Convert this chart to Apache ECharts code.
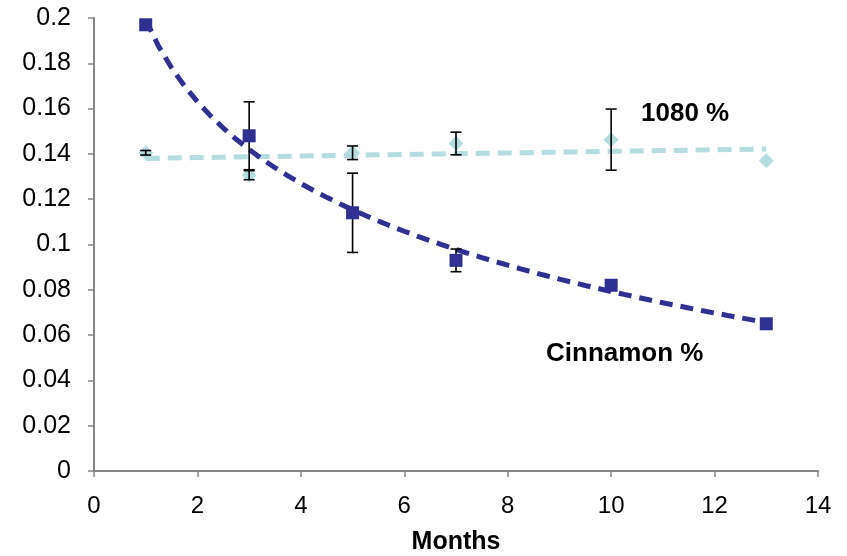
<!DOCTYPE html>
<html><head><meta charset="utf-8">
<script src="https://cdn.jsdelivr.net/npm/echarts@6/dist/echarts.min.js"></script>
<style>html,body{margin:0;padding:0;background:#fff}#c{width:847px;height:556px}</style>
</head><body><div id="c"></div>
<script>
const months = [1, 3, 5, 7, 10, 13];
const cinnamon = [0.197, 0.148, 0.114, 0.093, 0.082, 0.065];
const cinnamonErr = [0, 0.015, 0.0175, 0.005, 0.001, 0];
const p1080 = [0.1405, 0.1306, 0.1405, 0.1446, 0.1463, 0.137];
const p1080Err = [0.001, 0.002, 0.003, 0.005, 0.0135, 0];
const xTicks = [0, 2, 4, 6, 8, 10, 12, 14];
const yTicks = [0, 0.02, 0.04, 0.06, 0.08, 0.1, 0.12, 0.14, 0.16, 0.18, 0.2];

const CIN = '#2E3192', L1080 = '#B3DDE0';

// least-squares trendlines (Excel-style): logarithmic for Cinnamon, linear for 1080
function fit(xs, ys, tf) {
  const tx = xs.map(tf), n = xs.length;
  const mx = tx.reduce((a, b) => a + b, 0) / n, my = ys.reduce((a, b) => a + b, 0) / n;
  let sxy = 0, sxx = 0;
  tx.forEach((t, i) => { sxy += (t - mx) * (ys[i] - my); sxx += (t - mx) * (t - mx); });
  const b = sxy / sxx, a = my - b * mx;
  return x => a + b * tf(x);
}
const cinFit = fit(months, cinnamon, Math.log);
const f1080 = fit(months, p1080, x => x);
const trendX = [];
for (let x = months[0]; x <= months[months.length - 1] + 1e-9; x += 0.25) trendX.push(x);

function errSeries(ys, errs) {
  return {
    type: 'custom', z: 5,
    data: months.map((m, i) => [m, ys[i], errs[i]]),
    renderItem: function (params, api) {
      const x = api.value(0), y = api.value(1), e = api.value(2);
      if (!e) return null;
      const top = api.coord([x, y + e]), bot = api.coord([x, y - e]);
      const w = 5.5, st = { stroke: '#000', lineWidth: 1.6 };
      return { type: 'group', children: [
        { type: 'line', shape: { x1: top[0], y1: top[1], x2: bot[0], y2: bot[1] }, style: st },
        { type: 'line', shape: { x1: top[0] - w, y1: top[1], x2: top[0] + w, y2: top[1] }, style: st },
        { type: 'line', shape: { x1: bot[0] - w, y1: bot[1], x2: bot[0] + w, y2: bot[1] }, style: st }
      ]};
    }
  };
}

const chart = echarts.init(document.getElementById('c'));
chart.setOption({
  animation: false,
  grid: { left: 94, right: 29, top: 18, bottom: 85, containLabel: false, outerBoundsMode: 'none' },
  xAxis: {
    type: 'value', min: xTicks[0], max: xTicks[xTicks.length - 1], interval: 2,
    name: 'Months', nameLocation: 'middle', nameGap: 59,
    nameTextStyle: { fontFamily: 'Liberation Sans', fontWeight: 'bold', fontSize: 25, color: '#000' },
    axisLine: { lineStyle: { color: '#868686', width: 2 } },
    axisTick: { length: 6, lineStyle: { color: '#868686', width: 1.5 } },
    axisLabel: { fontFamily: 'Liberation Sans', fontSize: 24, color: '#000', margin: 23 },
    splitLine: { show: false }
  },
  yAxis: {
    type: 'value', min: yTicks[0], max: yTicks[yTicks.length - 1], interval: 0.02,
    axisLine: { show: true, lineStyle: { color: '#868686', width: 2 } },
    axisTick: { show: true, length: 6, lineStyle: { color: '#868686', width: 1.5 } },
    axisLabel: { fontFamily: 'Liberation Sans', fontSize: 25, color: '#000', margin: 23,
      formatter: v => String(+v.toFixed(2)) },
    splitLine: { show: false }
  },
  series: [
    { type: 'line', data: trendX.map(x => [x, f1080(x)]), showSymbol: false, symbol: 'none', z: 3,
      lineStyle: { color: L1080, width: 5, type: [14, 8] } },
    { type: 'line', data: trendX.map(x => [x, cinFit(x)]), showSymbol: false, symbol: 'none', z: 3,
      lineStyle: { color: CIN, width: 5, type: [13, 8] } },
    errSeries(cinnamon, cinnamonErr),
    errSeries(p1080, p1080Err),
    { type: 'scatter', name: '1080 %', data: months.map((m, i) => [m, p1080[i]]), symbol: 'diamond',
      symbolSize: 15, itemStyle: { color: L1080, opacity: 1 }, z: 4 },
    { type: 'scatter', name: 'Cinnamon %', data: months.map((m, i) => [m, cinnamon[i]]), symbol: 'rect',
      symbolSize: 13, itemStyle: { color: CIN, opacity: 1 }, z: 6 }
  ],
  graphic: [
    { type: 'text', left: 641, top: 101, style: { text: '1080 %', font: 'bold 26px "Liberation Sans"', fill: '#000' } },
    { type: 'text', left: 546, top: 341, style: { text: 'Cinnamon %', font: 'bold 26px "Liberation Sans"', fill: '#000' } }
  ]
});
</script></body></html>
